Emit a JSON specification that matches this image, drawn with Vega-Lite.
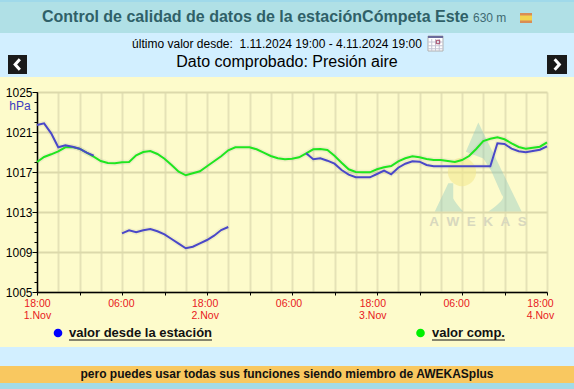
{"$schema":"https://vega.github.io/schema/vega-lite/v6.json","width":510,"height":200,"autosize":{"type":"none"},"padding":{"left":37,"top":92,"right":27,"bottom":97},"background":"#fdfbcb","config":{"view":{"stroke":null},"font":"Liberation Sans"},
"datasets":{"one":[{}],"p":[
{"t":"2024-11-01T18:00:00Z","est":1021.7,"comp":1018.0},{"t":"2024-11-01T19:00:00Z","est":1021.87,"comp":1018.5},{"t":"2024-11-01T20:00:00Z","est":1020.87,"comp":1018.77},{"t":"2024-11-01T21:00:00Z","est":1019.47,"comp":1019.07},{"t":"2024-11-01T22:00:00Z","est":1019.67,"comp":1019.47},{"t":"2024-11-01T23:00:00Z","est":1019.53,"comp":1019.5},{"t":"2024-11-02T00:00:00Z","est":1019.33,"comp":1019.33},{"t":"2024-11-02T01:00:00Z","est":1018.93,"comp":1018.93},{"t":"2024-11-02T02:00:00Z","est":1018.63,"comp":1018.53},{"t":"2024-11-02T03:00:00Z","est":null,"comp":1018.1},{"t":"2024-11-02T04:00:00Z","est":null,"comp":1017.9},{"t":"2024-11-02T05:00:00Z","est":null,"comp":1017.87},{"t":"2024-11-02T06:00:00Z","est":1010.87,"comp":1017.97},{"t":"2024-11-02T07:00:00Z","est":1011.17,"comp":1018.0},{"t":"2024-11-02T08:00:00Z","est":1010.97,"comp":1018.67},{"t":"2024-11-02T09:00:00Z","est":1011.17,"comp":1019.0},{"t":"2024-11-02T10:00:00Z","est":1011.3,"comp":1019.1},{"t":"2024-11-02T11:00:00Z","est":1011.07,"comp":1018.8},{"t":"2024-11-02T12:00:00Z","est":1010.77,"comp":1018.33},{"t":"2024-11-02T13:00:00Z","est":1010.3,"comp":1017.7},{"t":"2024-11-02T14:00:00Z","est":1009.83,"comp":1017.03},{"t":"2024-11-02T15:00:00Z","est":1009.37,"comp":1016.67},{"t":"2024-11-02T16:00:00Z","est":1009.53,"comp":1016.87},{"t":"2024-11-02T17:00:00Z","est":1009.87,"comp":1017.07},{"t":"2024-11-02T18:00:00Z","est":1010.2,"comp":1017.57},{"t":"2024-11-02T19:00:00Z","est":1010.63,"comp":1018.07},{"t":"2024-11-02T20:00:00Z","est":1011.2,"comp":1018.57},{"t":"2024-11-02T21:00:00Z","est":1011.5,"comp":1019.17},{"t":"2024-11-02T22:00:00Z","est":null,"comp":1019.47},{"t":"2024-11-02T23:00:00Z","est":null,"comp":1019.47},{"t":"2024-11-03T00:00:00Z","est":null,"comp":1019.47},{"t":"2024-11-03T01:00:00Z","est":null,"comp":1019.27},{"t":"2024-11-03T02:00:00Z","est":null,"comp":1018.93},{"t":"2024-11-03T03:00:00Z","est":null,"comp":1018.6},{"t":"2024-11-03T04:00:00Z","est":null,"comp":1018.37},{"t":"2024-11-03T05:00:00Z","est":null,"comp":1018.27},{"t":"2024-11-03T06:00:00Z","est":null,"comp":1018.33},{"t":"2024-11-03T07:00:00Z","est":null,"comp":1018.47},{"t":"2024-11-03T08:00:00Z","est":1018.87,"comp":1018.87},{"t":"2024-11-03T09:00:00Z","est":1018.27,"comp":1019.27},{"t":"2024-11-03T10:00:00Z","est":1018.37,"comp":1019.3},{"t":"2024-11-03T11:00:00Z","est":1018.13,"comp":1019.2},{"t":"2024-11-03T12:00:00Z","est":1017.83,"comp":1018.63},{"t":"2024-11-03T13:00:00Z","est":1017.2,"comp":1017.93},{"t":"2024-11-03T14:00:00Z","est":1016.73,"comp":1017.27},{"t":"2024-11-03T15:00:00Z","est":1016.47,"comp":1017.0},{"t":"2024-11-03T16:00:00Z","est":1016.47,"comp":1016.97},{"t":"2024-11-03T17:00:00Z","est":1016.47,"comp":1016.97},{"t":"2024-11-03T18:00:00Z","est":1016.8,"comp":1017.27},{"t":"2024-11-03T19:00:00Z","est":1017.13,"comp":1017.47},{"t":"2024-11-03T20:00:00Z","est":1016.77,"comp":1017.6},{"t":"2024-11-03T21:00:00Z","est":1017.43,"comp":1018.07},{"t":"2024-11-03T22:00:00Z","est":1017.83,"comp":1018.37},{"t":"2024-11-03T23:00:00Z","est":1018.07,"comp":1018.57},{"t":"2024-11-04T00:00:00Z","est":1018.03,"comp":1018.47},{"t":"2024-11-04T01:00:00Z","est":1017.7,"comp":1018.3},{"t":"2024-11-04T02:00:00Z","est":1017.57,"comp":1018.2},{"t":"2024-11-04T03:00:00Z","est":1017.57,"comp":1018.2},{"t":"2024-11-04T04:00:00Z","est":1017.57,"comp":1018.1},{"t":"2024-11-04T05:00:00Z","est":1017.57,"comp":1018.0},{"t":"2024-11-04T06:00:00Z","est":1017.57,"comp":1018.2},{"t":"2024-11-04T07:00:00Z","est":1017.57,"comp":1018.6},{"t":"2024-11-04T08:00:00Z","est":1017.57,"comp":1019.3},{"t":"2024-11-04T09:00:00Z","est":1017.57,"comp":1020.1},{"t":"2024-11-04T10:00:00Z","est":1017.57,"comp":1020.33},{"t":"2024-11-04T11:00:00Z","est":1019.87,"comp":1020.47},{"t":"2024-11-04T12:00:00Z","est":1019.8,"comp":1020.27},{"t":"2024-11-04T13:00:00Z","est":1019.33,"comp":1019.87},{"t":"2024-11-04T14:00:00Z","est":1019.07,"comp":1019.5},{"t":"2024-11-04T15:00:00Z","est":1018.97,"comp":1019.33},{"t":"2024-11-04T16:00:00Z","est":1019.1,"comp":1019.43},{"t":"2024-11-04T17:00:00Z","est":1019.23,"comp":1019.53},{"t":"2024-11-04T18:00:00Z","est":1019.57,"comp":1019.97}
]},
"resolve":{"axis":{"x":"independent","y":"independent"}},
"layer":[
{"data":{"name":"p"},"mark":{"type":"line","opacity":0},"encoding":{
"x":{"field":"t","type":"temporal","scale":{"type":"utc","domain":[1730484000000,1730743200000],"nice":false},"axis":{"orient":"bottom","title":null,"labels":false,"ticks":false,"domain":false,"grid":true,"gridColor":"#e5e2b6","gridWidth":2,"values":[1730484000000,1730494800000,1730505600000,1730516400000,1730527200000,1730538000000,1730548800000,1730559600000,1730570400000,1730581200000,1730592000000,1730602800000,1730613600000,1730624400000,1730635200000,1730646000000,1730656800000,1730667600000,1730678400000,1730689200000,1730700000000,1730710800000,1730721600000,1730732400000,1730743200000]}},
"y":{"field":"comp","type":"quantitative","scale":{"domain":[1005,1025],"nice":false,"zero":false},"axis":{"orient":"left","title":null,"labels":false,"ticks":true,"tickSize":3,"tickColor":"#000000","domain":false,"grid":false,"values":[1005,1006,1007,1008,1009,1010,1011,1012,1013,1014,1015,1016,1017,1018,1019,1020,1021,1022,1023,1024,1025]}}}},
{"data":{"name":"p"},"mark":{"type":"line","stroke":"#888888","strokeWidth":5,"opacity":0.1},"encoding":{"x":{"field":"t","type":"temporal","axis":null},"y":{"field":"comp","type":"quantitative","axis":null}}},
{"data":{"name":"p"},"mark":{"type":"line","stroke":"#888888","strokeWidth":5,"opacity":0.1},"encoding":{"x":{"field":"t","type":"temporal","axis":null},"y":{"field":"est","type":"quantitative","axis":null}}},
{"data":{"name":"one"},"mark":{"type":"point","filled":true,"fill":"#f3e88c","opacity":0.55,"shape":"circle","size":800,"strokeWidth":0},"encoding":{"x":{"datum":1730699999875,"type":"temporal","axis":null},"y":{"datum":1017,"type":"quantitative","axis":null}}},
{"data":{"name":"one"},"mark":{"type":"point","filled":true,"fill":"#8fc9c0","opacity":0.42,"strokeWidth":0,"size":8100,"shape":"M0.007,-0.99L0.97,0.99L0.23,0.99Q0.65,0.7 0.53,0.62L0.3,0.1L0.12,-0.19L-0.27,-0.34ZM-0.66,0.36L-0.96,0.99L-0.33,0.99Q-0.5,0.8 -0.55,0.7L-0.55,0.36Z"},"encoding":{"x":{"datum":1730708131635,"type":"temporal","axis":null},"y":{"datum":1017.5,"type":"quantitative","axis":null}}},
{"data":{"values":[{"l":"A\u00a0\u00a0W\u00a0\u00a0E\u00a0\u00a0K\u00a0\u00a0A\u00a0\u00a0S"}]},"mark":{"type":"text","fontWeight":"bold","fontSize":13.5,"fill":"#d8d8be","align":"center","baseline":"middle"},"encoding":{"text":{"field":"l"},"x":{"datum":1730708131635,"type":"temporal","axis":null},"y":{"datum":1012,"type":"quantitative","axis":null}}},
{"data":{"name":"p"},"mark":{"type":"line","stroke":"#1fe61f","strokeWidth":2},"encoding":{"x":{"field":"t","type":"temporal","axis":null},"y":{"field":"comp","type":"quantitative","axis":null}}},
{"data":{"name":"p"},"mark":{"type":"line","stroke":"#4a48c8","strokeWidth":2},"encoding":{
"x":{"field":"t","type":"temporal","axis":{"orient":"bottom","title":null,"grid":false,"domainColor":"#000000","domainWidth":1.5,"tickColor":"#000000","tickSize":3,"labelColor":"#e8181c","labelFontSize":10.5,"labelFont":"Liberation Sans","labelPadding":3,"labelLineHeight":12,"labelOverlap":false,"labelFlush":false,"labelBound":false,"labelOffset":{"expr":"-(datum.value-1730484000000)/259200000*7"},"values":[1730484000000,1730505600000,1730527200000,1730548800000,1730570400000,1730592000000,1730613600000,1730635200000,1730656800000,1730678400000,1730700000000,1730721600000,1730743200000],"labelExpr":"utchours(datum.value)==18?[utcFormat(datum.value,'%H:%M'),utcdate(datum.value)+'.Nov']:(utchours(datum.value)==6?[utcFormat(datum.value,'%H:%M'),'']:'')"}},
"y":{"field":"est","type":"quantitative","axis":{"orient":"left","title":null,"format":"d","values":[1005,1009,1013,1017,1021,1025],"grid":true,"gridColor":"#dcd9ab","gridWidth":2,"domainColor":"#000000","domainWidth":1.5,"tickColor":"#000000","tickSize":5,"labelColor":"#000000","labelFontSize":12,"labelFont":"Liberation Sans","labelPadding":0,"labelOverlap":false,"labelFlush":false,"labelBound":false}}}},
{"data":{"values":[{"l":"hPa"}]},"mark":{"type":"text","fontSize":12,"fill":"#3a3ac0","align":"center","baseline":"middle"},"encoding":{"text":{"field":"l"},"x":{"datum":1730475360005,"type":"temporal","axis":null},"y":{"datum":1023.6,"type":"quantitative","axis":null}}},
{"data":{"name":"one"},"mark":{"type":"rect","fill":"#a0d9ea"},"encoding":{"x":{"datum":1730465195305,"type":"temporal","axis":null},"x2":{"datum":1730756922195},"y":{"datum":1034.2,"type":"quantitative","axis":null},"y2":{"datum":1034}}},
{"data":{"name":"one"},"mark":{"type":"rect","fill":"#b0e0e6"},"encoding":{"x":{"datum":1730465195305,"type":"temporal","axis":null},"x2":{"datum":1730756922195},"y":{"datum":1034,"type":"quantitative","axis":null},"y2":{"datum":1030.9}}},
{"data":{"name":"one"},"mark":{"type":"rect","fill":"#d2efff"},"encoding":{"x":{"datum":1730465195305,"type":"temporal","axis":null},"x2":{"datum":1730756922195},"y":{"datum":1030.9,"type":"quantitative","axis":null},"y2":{"datum":1026.5}}},
{"data":{"name":"one"},"mark":{"type":"rect","fill":"#d2efff"},"encoding":{"x":{"datum":1730465195305,"type":"temporal","axis":null},"x2":{"datum":1730756922195},"y":{"datum":999.5,"type":"quantitative","axis":null},"y2":{"datum":997.6}}},
{"data":{"name":"one"},"mark":{"type":"rect","fill":"#f9c860"},"encoding":{"x":{"datum":1730465195305,"type":"temporal","axis":null},"x2":{"datum":1730756922195},"y":{"datum":997.6,"type":"quantitative","axis":null},"y2":{"datum":995.9}}},
{"data":{"name":"one"},"mark":{"type":"rect","fill":"#a3dbe8"},"encoding":{"x":{"datum":1730465195305,"type":"temporal","axis":null},"x2":{"datum":1730756922195},"y":{"datum":995.9,"type":"quantitative","axis":null},"y2":{"datum":995.3}}},
{"data":{"name":"one"},"mark":{"type":"rect","fill":"#d98d55"},"encoding":{"x":{"datum":1730729477505,"type":"temporal","axis":null},"x2":{"datum":1730735576325},"y":{"datum":1032.9,"type":"quantitative","axis":null},"y2":{"datum":1031.9}}},
{"data":{"name":"one"},"mark":{"type":"rect","fill":"#f2d34f"},"encoding":{"x":{"datum":1730729477505,"type":"temporal","axis":null},"x2":{"datum":1730735576325},"y":{"datum":1032.65,"type":"quantitative","axis":null},"y2":{"datum":1032.15}}},
{"data":{"name":"one"},"mark":{"type":"rect","fill":"#ffffff","stroke":"#b0b0b0","strokeWidth":1},"encoding":{"x":{"datum":1730682719885,"type":"temporal","axis":null},"x2":{"datum":1730690343410},"y":{"datum":1030.6,"type":"quantitative","axis":null},"y2":{"datum":1029.1}}},
{"data":{"name":"one"},"mark":{"type":"point","filled":false,"opacity":1,"stroke":"#c4c4d4","strokeWidth":1,"size":225,"shape":"M-0.5,-0.6L-0.5,1M0,-0.6L0,1M0.5,-0.6L0.5,1M-1,-0.2L1,-0.2M-1,0.3L1,0.3M-1,0.7L1,0.7"},"encoding":{"x":{"datum":1730686531648,"type":"temporal","axis":null},"y":{"datum":1029.85,"type":"quantitative","axis":null}}},
{"data":{"name":"one"},"mark":{"type":"rect","fill":"#6a6a9a"},"encoding":{"x":{"datum":1730682719885,"type":"temporal","axis":null},"x2":{"datum":1730690343410},"y":{"datum":1030.6,"type":"quantitative","axis":null},"y2":{"datum":1030.4}}},
{"data":{"name":"one"},"mark":{"type":"point","filled":false,"opacity":1,"stroke":"#a04060","strokeWidth":1,"size":12,"shape":"square"},"encoding":{"x":{"datum":1730687802235,"type":"temporal","axis":null},"y":{"datum":1030.0,"type":"quantitative","axis":null}}},
{"data":{"name":"one"},"mark":{"type":"rect","fill":"#1a1a1a"},"encoding":{"x":{"datum":1730469261185,"type":"temporal","axis":null},"x2":{"datum":1730478917650},"y":{"datum":1028.7,"type":"quantitative","axis":null},"y2":{"datum":1026.8}}},
{"data":{"name":"one"},"mark":{"type":"rect","fill":"#1a1a1a"},"encoding":{"x":{"datum":1730743199850,"type":"temporal","axis":null},"x2":{"datum":1730753364550},"y":{"datum":1028.7,"type":"quantitative","axis":null},"y2":{"datum":1026.8}}},
{"data":{"name":"one"},"mark":{"type":"point","filled":false,"opacity":1,"stroke":"#ffffff","strokeWidth":3,"size":110,"shape":"M0.45,-1L-0.45,0L0.45,1"},"encoding":{"x":{"datum":1730474089417,"type":"temporal","axis":null},"y":{"datum":1027.75,"type":"quantitative","axis":null}}},
{"data":{"name":"one"},"mark":{"type":"point","filled":false,"opacity":1,"stroke":"#ffffff","strokeWidth":3,"size":110,"shape":"M-0.45,-1L0.45,0L-0.45,1"},"encoding":{"x":{"datum":1730748282200,"type":"temporal","axis":null},"y":{"datum":1027.75,"type":"quantitative","axis":null}}},
{"data":{"values":[{"l":"Control de calidad de datos de la estaciónCómpeta Este"}]},"mark":{"type":"text","fontSize":16,"fontWeight":"bold","fill":"#2f6068","align":"left","baseline":"middle"},"encoding":{"text":{"field":"l"},"x":{"datum":1730486541175,"type":"temporal","axis":null},"y":{"datum":1032.5,"type":"quantitative","axis":null}}},
{"data":{"values":[{"l":"630 m"}]},"mark":{"type":"text","fontSize":12,"fill":"#3e6a72","align":"left","baseline":"middle"},"encoding":{"text":{"field":"l"},"x":{"datum":1730705590460,"type":"temporal","axis":null},"y":{"datum":1032.4,"type":"quantitative","axis":null}}},
{"data":{"values":[{"l":"último valor desde:\u00a0\u00a01.11.2024 19:00 - 4.11.2024 19:00"}]},"mark":{"type":"text","fontSize":12,"fill":"#000000","align":"center","baseline":"middle"},"encoding":{"text":{"field":"l"},"x":{"datum":1730605976400,"type":"temporal","axis":null},"y":{"datum":1029.8,"type":"quantitative","axis":null}}},
{"data":{"values":[{"l":"Dato comprobado: Presión aire"}]},"mark":{"type":"text","fontSize":16,"fill":"#000000","align":"center","baseline":"middle"},"encoding":{"text":{"field":"l"},"x":{"datum":1730611058750,"type":"temporal","axis":null},"y":{"datum":1028,"type":"quantitative","axis":null}}},
{"data":{"name":"one"},"mark":{"type":"point","filled":true,"opacity":1,"fill":"#0000ff","size":75,"strokeWidth":0,"shape":"circle"},"encoding":{"x":{"datum":1730494672935,"type":"temporal","axis":null},"y":{"datum":1000.9,"type":"quantitative","axis":null}}},
{"data":{"name":"one"},"mark":{"type":"point","filled":true,"opacity":1,"fill":"#00f000","size":75,"strokeWidth":0,"shape":"circle"},"encoding":{"x":{"datum":1730678908123,"type":"temporal","axis":null},"y":{"datum":1000.9,"type":"quantitative","axis":null}}},
{"data":{"values":[{"l":"valor desde la estación"}]},"mark":{"type":"text","fontSize":13,"fontWeight":"bold","fill":"#111111","align":"left","baseline":"middle"},"encoding":{"text":{"field":"l"},"x":{"datum":1730500263520,"type":"temporal","axis":null},"y":{"datum":1000.9,"type":"quantitative","axis":null}}},
{"data":{"values":[{"l":"valor comp."}]},"mark":{"type":"text","fontSize":13,"fontWeight":"bold","fill":"#111111","align":"left","baseline":"middle"},"encoding":{"text":{"field":"l"},"x":{"datum":1730684752825,"type":"temporal","axis":null},"y":{"datum":1000.9,"type":"quantitative","axis":null}}},
{"data":{"name":"one"},"mark":{"type":"rule","stroke":"#111111","strokeWidth":1},"encoding":{"x":{"datum":1730500263520,"type":"temporal","axis":null},"x2":{"datum":1730572941125},"y":{"datum":1000.2,"type":"quantitative","axis":null}}},
{"data":{"name":"one"},"mark":{"type":"rule","stroke":"#111111","strokeWidth":1},"encoding":{"x":{"datum":1730684752825,"type":"temporal","axis":null},"x2":{"datum":1730721853980},"y":{"datum":1000.2,"type":"quantitative","axis":null}}},
{"data":{"values":[{"l":"pero puedes usar todas sus funciones siendo miembro de AWEKASplus"}]},"mark":{"type":"text","fontSize":12,"fontWeight":"bold","fill":"#111111","align":"center","baseline":"middle"},"encoding":{"text":{"field":"l"},"x":{"datum":1730611058750,"type":"temporal","axis":null},"y":{"datum":996.8,"type":"quantitative","axis":null}}}
]}
